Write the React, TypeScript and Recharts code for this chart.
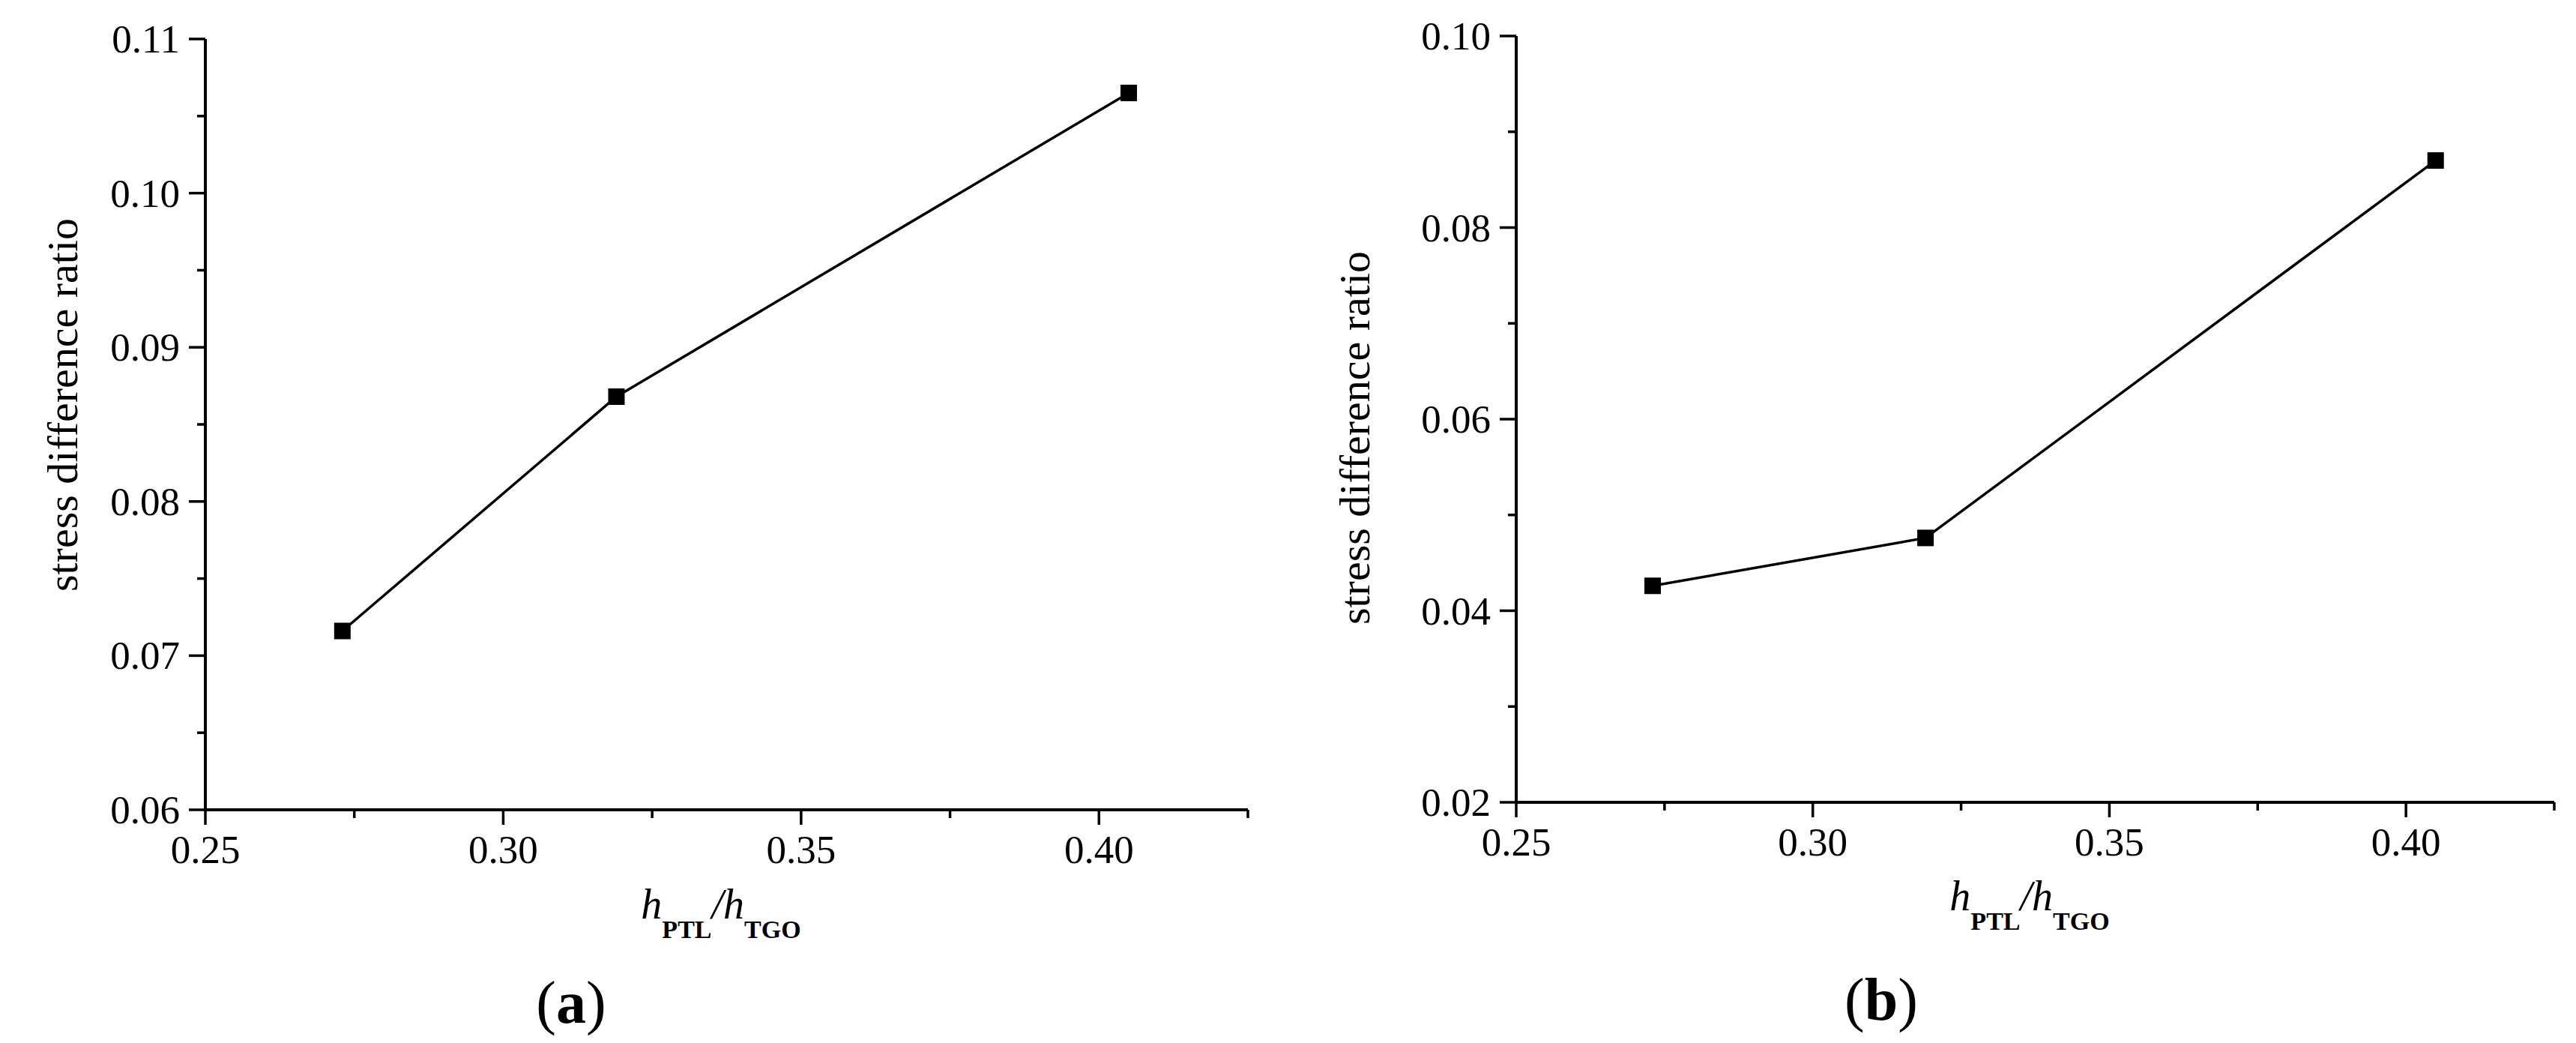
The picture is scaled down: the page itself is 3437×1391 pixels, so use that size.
import React from 'react';
import { LineChart, Line, XAxis, YAxis } from 'recharts';

// h_PTL / h_TGO values (same for both panels)
const ratio = [0.273, 0.319, 0.405];
// stress difference ratio, panel (a) and (b)
const stressA = [0.0716, 0.0868, 0.1065];
const stressB = [0.0426, 0.0476, 0.087];

const xMajor = [0.25, 0.3, 0.35, 0.4];
const xMinor = [0.275, 0.325, 0.375, 0.425];
const yMajorA = [0.06, 0.07, 0.08, 0.09, 0.1, 0.11];
const yMinorA = [0.065, 0.075, 0.085, 0.095, 0.105];
const yMajorB = [0.02, 0.04, 0.06, 0.08, 0.1];
const yMinorB = [0.03, 0.05, 0.07, 0.09];

const FONT = '"Liberation Serif", "Times New Roman", serif';
const isIn = (arr: number[], v: number) => arr.some((a) => Math.abs(a - v) < 1e-9);

const XTick = (props: any) => {
  const { x, y, payload } = props;
  const major = isIn(xMajor, payload.value);
  return (
    <g>
      <line x1={x} x2={x} y1={y} y2={y + (major ? 20 : 11)} stroke="#000" strokeWidth={3.5} />
      {major && (
        <text x={x} y={y + 71} textAnchor="middle" fontFamily={FONT} fontSize={53} fill="#000">
          {payload.value.toFixed(2)}
        </text>
      )}
    </g>
  );
};

const makeYTick = (majors: number[]) => (props: any) => {
  const { x, y, payload } = props;
  const major = isIn(majors, payload.value);
  return (
    <g>
      <line x1={x} x2={x - (major ? 22 : 11)} y1={y} y2={y} stroke="#000" strokeWidth={3.5} />
      {major && (
        <text x={x - 34} y={y + 18} textAnchor="end" fontFamily={FONT} fontSize={53} fill="#000">
          {payload.value.toFixed(2)}
        </text>
      )}
    </g>
  );
};

const Square = (props: any) => {
  const { cx, cy, index } = props;
  if (cx == null || cy == null) return <g key={index} />;
  return <rect key={index} x={cx - 11} y={cy - 11} width={22} height={22} fill="#000" />;
};

type PanelProps = {
  values: number[];
  yDomain: [number, number];
  yMajor: number[];
  yMinor: number[];
  width: number;
  height: number;
  yAxisWidth: number;
  xAxisHeight: number;
  top: number;
  right: number;
};

const Panel = ({ values, yDomain, yMajor, yMinor, width, height, yAxisWidth, xAxisHeight, top, right }: PanelProps) => {
  const data = ratio.map((r, i) => ({ x: r, y: values[i] }));
  const yTicks = [...yMajor, ...yMinor].sort((a, b) => a - b);
  const xTicks = [...xMajor, ...xMinor].sort((a, b) => a - b);
  return (
    <LineChart width={width} height={height} data={data} margin={{ top, right, left: 0, bottom: 0 }}>
      <XAxis
        dataKey="x"
        type="number"
        domain={[0.25, 0.425]}
        allowDataOverflow
        ticks={xTicks}
        interval={0}
        tickSize={0}
        tickMargin={0}
        tickLine={false}
        height={xAxisHeight}
        axisLine={{ stroke: '#000', strokeWidth: 4 }}
        tick={(p: any) => <XTick {...p} />}
      />
      <YAxis
        type="number"
        domain={yDomain}
        allowDataOverflow
        ticks={yTicks}
        interval={0}
        tickSize={0}
        tickMargin={0}
        tickLine={false}
        width={yAxisWidth}
        axisLine={{ stroke: '#000', strokeWidth: 4 }}
        tick={makeYTick(yMajor)}
      />
      <Line
        type="linear"
        dataKey="y"
        stroke="#000"
        strokeWidth={3.5}
        dot={Square}
        activeDot={false}
        isAnimationActive={false}
      />
    </LineChart>
  );
};

const XTitle = ({ cx, y }: { cx: number; y: number }) => (
  <text x={cx} y={y} textAnchor="middle" fontFamily={FONT} fill="#000">
    <tspan fontStyle="italic" fontSize={56}>h</tspan>
    <tspan fontWeight="bold" fontSize={34} dy={26}>PTL</tspan>
    <tspan fontStyle="italic" fontSize={56} dy={-26}>/h</tspan>
    <tspan fontWeight="bold" fontSize={34} dy={26}>TGO</tspan>
  </text>
);

const YTitle = ({ x, y }: { x: number; y: number }) => (
  <text
    x={x}
    y={y}
    transform={`rotate(-90 ${x} ${y})`}
    textAnchor="middle"
    fontFamily={FONT}
    fontSize={58}
    fill="#000"
  >
    stress difference ratio
  </text>
);

const Caption = ({ x, y, letter }: { x: number; y: number; letter: string }) => (
  <text x={x} y={y} textAnchor="middle" fontFamily={FONT} fontSize={80} fill="#000">
    (<tspan fontWeight="bold">{letter}</tspan>)
  </text>
);

export default function App() {
  return (
    <div style={{ position: 'absolute', left: 0, top: 0, width: 3437, height: 1391, background: '#fff' }}>
      <div style={{ position: 'absolute', left: 0, top: 0 }}>
        <Panel
          values={stressA}
          yDomain={[0.06, 0.11]}
          yMajor={yMajorA}
          yMinor={yMinorA}
          width={1720}
          height={1391}
          yAxisWidth={274}
          xAxisHeight={311}
          top={52}
          right={55}
        />
      </div>
      <div style={{ position: 'absolute', left: 1720, top: 0 }}>
        <Panel
          values={stressB}
          yDomain={[0.02, 0.1]}
          yMajor={yMajorB}
          yMinor={yMinorB}
          width={1717}
          height={1391}
          yAxisWidth={303}
          xAxisHeight={321}
          top={48}
          right={29}
        />
      </div>
      <svg
        width={3437}
        height={1391}
        style={{ position: 'absolute', left: 0, top: 0, pointerEvents: 'none' }}
      >
        <YTitle x={103} y={540} />
        <YTitle x={1827} y={584} />
        <XTitle cx={962} y={1225} />
        <XTitle cx={2708} y={1214} />
        <Caption x={762} y={1364} letter="a" />
        <Caption x={2510} y={1360} letter="b" />
      </svg>
    </div>
  );
}
